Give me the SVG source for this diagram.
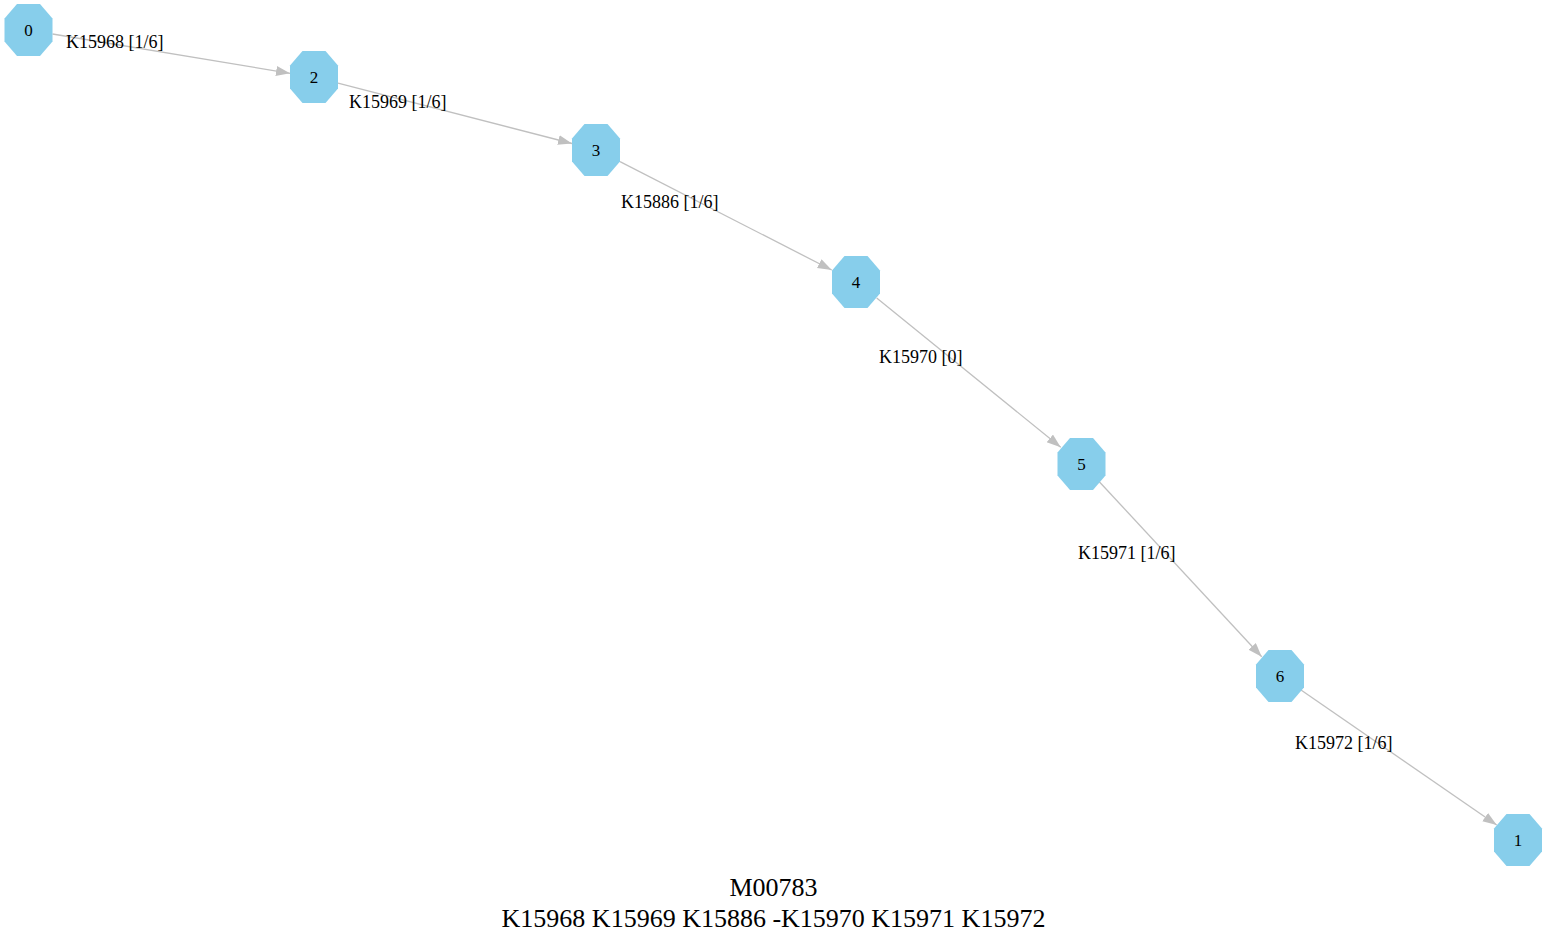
<svg xmlns="http://www.w3.org/2000/svg" xmlns:xlink="http://www.w3.org/1999/xlink" width="1547" height="941" viewBox="0 0 1547 941">
  <style>
    .node polygon { fill: #87ceeb; stroke: none; }
    .node text { font-family: "Liberation Serif", "Times New Roman", serif; font-size: 17px; fill: #000; text-anchor: middle; }
    .edge line { stroke: #c0c0c0; stroke-width: 1.3; fill: none; }
    .elabel { font-family: "Liberation Serif", "Times New Roman", serif; font-size: 18px; fill: #000; }
    .title { font-family: "Liberation Serif", "Times New Roman", serif; font-size: 26px; fill: #000; text-anchor: middle; }
  </style>
  <defs>
    <marker id="arrow" markerUnits="userSpaceOnUse" markerWidth="16" markerHeight="12" refX="14" refY="5" orient="auto">
      <polygon points="0,0 14,5 0,10" fill="#c0c0c0"/>
    </marker>
  </defs>

  <!-- connectors -->
  <g id="edges">
    <g class="edge" id="e0_2">
      <line x1="52.5" y1="34" x2="290" y2="73.3" marker-end="url(#arrow)"/>
    </g>
    <g class="edge" id="e2_3">
      <line x1="338" y1="83.2" x2="572" y2="143.5" marker-end="url(#arrow)"/>
    </g>
    <g class="edge" id="e3_4">
      <line x1="620" y1="161.7" x2="831.7" y2="270" marker-end="url(#arrow)"/>
    </g>
    <g class="edge" id="e4_5">
      <line x1="876.7" y1="298" x2="1060.7" y2="447.3" marker-end="url(#arrow)"/>
    </g>
    <g class="edge" id="e5_6">
      <line x1="1099.3" y1="481.7" x2="1261.7" y2="656.7" marker-end="url(#arrow)"/>
    </g>
    <g class="edge" id="e6_1">
      <line x1="1301" y1="690" x2="1496.7" y2="825" marker-end="url(#arrow)"/>
    </g>
    <text class="elabel" x="66" y="48">K15968 [1/6]</text>
    <text class="elabel" x="349" y="108">K15969 [1/6]</text>
    <text class="elabel" x="621" y="208">K15886 [1/6]</text>
    <text class="elabel" x="879" y="363">K15970 [0]</text>
    <text class="elabel" x="1078" y="559">K15971 [1/6]</text>
    <text class="elabel" x="1295" y="749">K15972 [1/6]</text>
  </g>

  <!-- nodes -->
  <g id="node0" class="node" transform="translate(28.5,30)">
    <polygon points="-11.5,-26 11.5,-26 24,-11.5 24,11.5 11.5,26 -11.5,26 -24,11.5 -24,-11.5"/>
    <text x="0" y="6">0</text>
  </g>
  <g id="node2" class="node" transform="translate(314,77)">
    <polygon points="-11.5,-26 11.5,-26 24,-11.5 24,11.5 11.5,26 -11.5,26 -24,11.5 -24,-11.5"/>
    <text x="0" y="6">2</text>
  </g>
  <g id="node3" class="node" transform="translate(596,150)">
    <polygon points="-11.5,-26 11.5,-26 24,-11.5 24,11.5 11.5,26 -11.5,26 -24,11.5 -24,-11.5"/>
    <text x="0" y="6">3</text>
  </g>
  <g id="node4" class="node" transform="translate(856,282)">
    <polygon points="-11.5,-26 11.5,-26 24,-11.5 24,11.5 11.5,26 -11.5,26 -24,11.5 -24,-11.5"/>
    <text x="0" y="6">4</text>
  </g>
  <g id="node5" class="node" transform="translate(1081.5,464)">
    <polygon points="-11.5,-26 11.5,-26 24,-11.5 24,11.5 11.5,26 -11.5,26 -24,11.5 -24,-11.5"/>
    <text x="0" y="6">5</text>
  </g>
  <g id="node6" class="node" transform="translate(1280,676)">
    <polygon points="-11.5,-26 11.5,-26 24,-11.5 24,11.5 11.5,26 -11.5,26 -24,11.5 -24,-11.5"/>
    <text x="0" y="6">6</text>
  </g>
  <g id="node1" class="node" transform="translate(1518,840)">
    <polygon points="-11.5,-26 11.5,-26 24,-11.5 24,11.5 11.5,26 -11.5,26 -24,11.5 -24,-11.5"/>
    <text x="0" y="6">1</text>
  </g>

  <!-- graph title -->
  <g id="title">
    <text class="title" x="773.5" y="896">M00783</text>
    <text class="title" x="773.5" y="927">K15968 K15969 K15886 -K15970 K15971 K15972</text>
  </g>
</svg>
